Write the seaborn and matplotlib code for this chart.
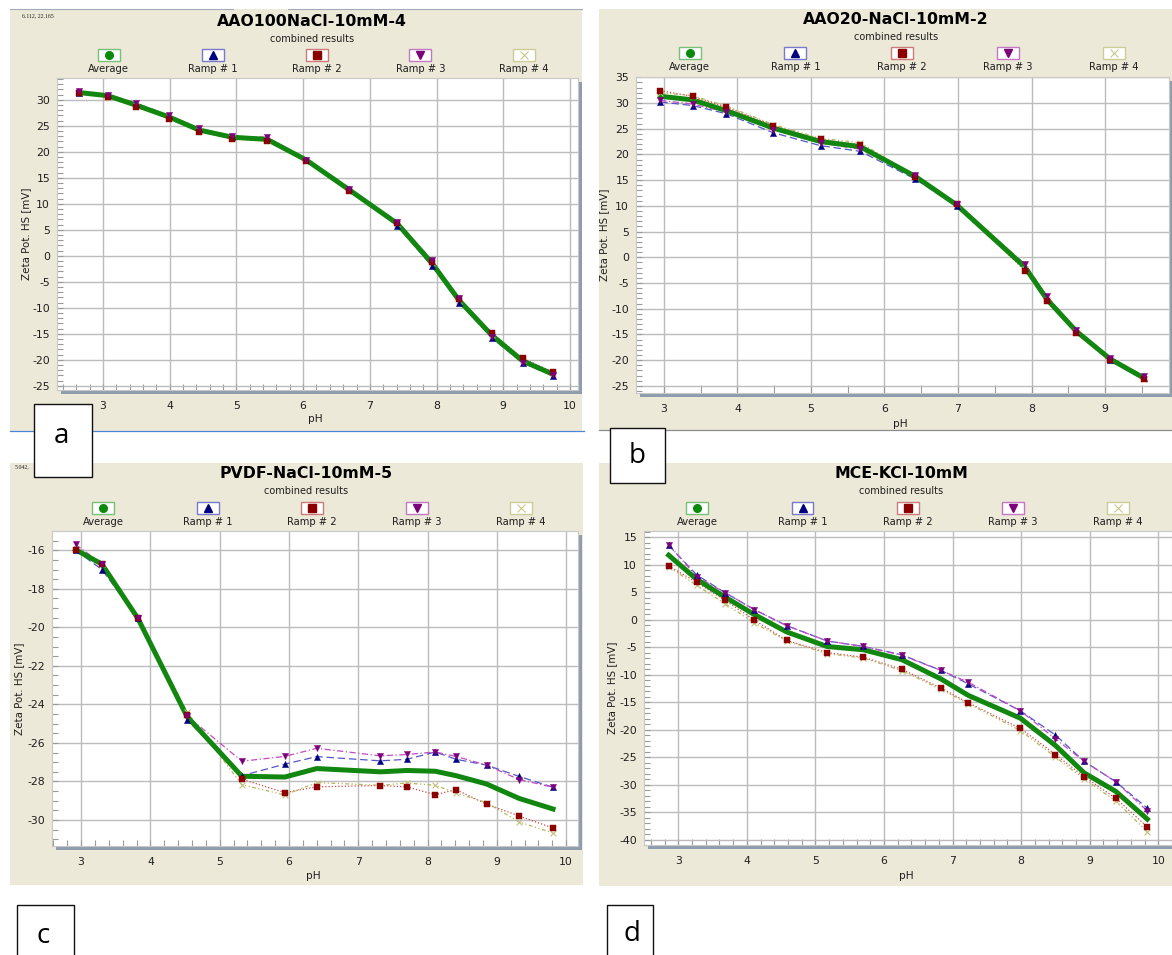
import matplotlib
matplotlib.use("Agg")
import matplotlib.pyplot as plt
from matplotlib.patches import Rectangle
from matplotlib.lines import Line2D
from matplotlib.ticker import MultipleLocator
import seaborn as sns

# ---------------------------------------------------------------- data
SERIES = ["Average", "Ramp # 1", "Ramp # 2", "Ramp # 3", "Ramp # 4"]

# AAO100NaCl-10mM-4
a_ph = [2.64, 3.07, 3.49, 3.99, 4.44, 4.94, 5.46, 6.05, 6.69, 7.41, 7.93, 8.34, 8.83, 9.29, 9.75]
a_avg = [31.4, 30.8, 29.0, 26.7, 24.2, 22.8, 22.4, 18.4, 12.7, 6.2, -1.4, -8.6, -15.3, -20.2, -22.8]
a_r1 = [31.3, 30.9, 29.2, 26.9, 24.4, 22.9, 22.6, 18.5, 12.8, 5.8, -2.0, -9.0, -15.8, -20.6, -23.1]
a_r2 = [31.4, 30.6, 28.7, 26.4, 23.9, 22.5, 22.1, 18.2, 12.5, 6.4, -1.2, -8.3, -14.9, -19.7, -22.4]
a_r3 = [31.7, 31.0, 29.4, 27.0, 24.5, 23.0, 22.8, 18.5, 12.9, 6.6, -0.8, -8.2, -15.6, -20.6, -23.0]
a_r4 = [31.3, 30.7, 28.9, 26.6, 24.1, 22.7, 22.3, 18.4, 12.6, 6.2, -1.4, -8.7, -15.2, -20.1, -22.7]

# AAO20-NaCl-10mM-2
b_ph = [2.95, 3.39, 3.85, 4.49, 5.13, 5.67, 6.42, 6.98, 7.91, 8.21, 8.61, 9.07, 9.53]
b_avg = [31.3, 30.6, 28.5, 25.1, 22.5, 21.5, 15.7, 10.2, -1.9, -8.2, -14.4, -19.8, -23.5]
b_r1 = [30.2, 29.5, 27.9, 24.2, 21.7, 20.6, 15.2, 9.9, -2.1, -8.4, -14.5, -19.9, -23.4]
b_r2 = [32.4, 31.3, 29.2, 25.6, 22.9, 21.9, 15.6, 10.3, -2.6, -8.6, -14.7, -20.0, -23.7]
b_r3 = [30.5, 29.8, 28.2, 24.8, 22.2, 21.0, 15.9, 10.3, -1.3, -7.6, -14.1, -19.5, -23.1]
b_r4 = [32.0, 31.4, 29.4, 25.8, 23.1, 22.3, 15.8, 10.2, -2.2, -8.3, -14.3, -19.8, -23.6]

# PVDF-NaCl-10mM-5
c_ph = [2.92, 3.30, 3.82, 4.53, 5.32, 5.94, 6.40, 7.32, 7.70, 8.11, 8.41, 8.85, 9.32, 9.81]
c_avg = [-15.97, -16.72, -19.54, -24.64, -27.73, -27.77, -27.33, -27.50, -27.43, -27.47, -27.70, -28.13, -28.88, -29.43]
c_r1 = [-16.0, -17.0, -19.54, -24.8, -27.7, -27.1, -26.71, -26.93, -26.85, -26.47, -26.85, -27.15, -27.74, -28.30]
c_r2 = [-16.0, -16.7, -19.54, -24.55, -27.88, -28.58, -28.28, -28.21, -28.28, -28.69, -28.42, -29.18, -29.79, -30.42]
c_r3 = [-15.7, -16.7, -19.54, -24.6, -26.95, -26.7, -26.28, -26.67, -26.6, -26.47, -26.7, -27.15, -27.9, -28.3]
c_r4 = [-16.0, -16.7, -19.5, -24.4, -28.17, -28.7, -28.06, -28.2, -28.08, -28.2, -28.6, -29.1, -30.1, -30.68]

# MCE-KCl-10mM
d_ph = [2.86, 3.27, 3.68, 4.11, 4.58, 5.17, 5.70, 6.26, 6.83, 7.23, 7.99, 8.50, 8.92, 9.38, 9.84]
d_avg = [11.7, 7.3, 4.1, 0.9, -2.25, -4.9, -5.5, -7.3, -10.8, -13.8, -17.95, -22.9, -27.9, -31.25, -36.3]
d_r1 = [13.5, 8.1, 4.9, 1.8, -1.1, -3.9, -4.9, -6.4, -9.25, -11.7, -16.6, -21.0, -25.8, -29.5, -34.3]
d_r2 = [9.75, 6.75, 3.5, -0.1, -3.8, -6.0, -6.85, -9.05, -12.45, -15.15, -19.8, -24.55, -28.6, -32.5, -37.7]
d_r3 = [13.6, 7.8, 4.9, 1.8, -1.1, -3.9, -4.9, -6.5, -9.25, -11.4, -16.6, -21.7, -25.8, -29.5, -34.8]
d_r4 = [9.6, 6.2, 2.9, -0.6, -3.9, -6.2, -7.0, -9.3, -12.7, -15.3, -20.2, -25.0, -29.0, -33.0, -38.6]

# ---------------------------------------------------------------- style
W, H = 1172, 955
BEIGE = "#ECE9D8"
SHADOW = "#8E9DAD"
GRID = "#bcbcbc"
TXT = "#1e1e1e"

AVG_STYLE = dict(color="#11870f", lw=3.6)
RAMP_STYLES = [
    dict(line="#5656c8", ls=(0, (6, 3)), marker="^", mc="#00007f"),
    dict(line="#d04848", ls=(0, (1, 1.6)), marker="s", mc="#8b0000"),
    dict(line="#c24cc2", ls=(0, (5, 2, 1, 2)), marker="v", mc="#7c007c"),
    dict(line="#b4b45e", ls=(0, (3, 2, 1, 2, 1, 2)), marker="x", mc="#c2c27e"),
]
LEGEND_ICONS = [
    dict(box="#78c078", marker="o", mc="#0a8a0a"),
    dict(box="#7878cc", marker="^", mc="#00007f"),
    dict(box="#cc7a7a", marker="s", mc="#8b0000"),
    dict(box="#c478c4", marker="v", mc="#7c007c"),
    dict(box="#cccc96", marker="x", mc="#c8c88a"),
]

plt.rcParams["axes.unicode_minus"] = False
plt.rcParams["font.family"] = ["DejaVu Sans"]

fig = plt.figure(figsize=(W / 100, H / 100), dpi=100)
fig.patch.set_facecolor("white")


def fx(px):
    return px / W


def fy(py):
    return 1 - py / H


def frect(x0, y0, x1, y1, **kw):
    r = Rectangle((fx(x0), fy(y1)), (x1 - x0) / W, (y1 - y0) / H,
                  transform=fig.transFigure, **kw)
    fig.add_artist(r)
    return r


def draw_panel(cfg, ph, avg, ramps):
    bx0, by0, bx1, by1 = cfg["panel"]
    frect(bx0, by0, bx1, by1, facecolor=BEIGE, edgecolor="none", zorder=-3)
    px0, py0, px1, py1 = cfg["plot"]
    frect(px0 + 4, py0 + 4, px1 + 4, py1 + 4, facecolor=SHADOW, edgecolor="none", zorder=-2)

    ax = fig.add_axes([fx(px0), fy(py1), (px1 - px0) / W, (py1 - py0) / H])
    ax.set_facecolor("white")
    for s in ax.spines.values():
        s.set_color("#c8c8c8")
        s.set_linewidth(0.8)

    # ramp lines under the average, markers on top
    for vals, st in zip(ramps, RAMP_STYLES):
        sns.lineplot(x=ph, y=vals, ax=ax, color=st["line"], lw=0.9,
                     linestyle=st["ls"], sort=False, errorbar=None, zorder=2)
    sns.lineplot(x=ph, y=avg, ax=ax, color=AVG_STYLE["color"], lw=AVG_STYLE["lw"],
                 sort=False, errorbar=None, zorder=3)
    for idx in (3, 0, 1, 2):
        st = RAMP_STYLES[idx]
        if st["marker"] == "x":
            sns.scatterplot(x=ph, y=ramps[idx], ax=ax, marker="x", s=18,
                            color=st["mc"], linewidth=0.8, zorder=4, legend=False)
        else:
            sns.scatterplot(x=ph, y=ramps[idx], ax=ax, marker=st["marker"], s=20,
                            color=st["mc"], edgecolor=st["mc"], linewidth=0.3,
                            zorder=4, legend=False)

    ax.set_xlim(*cfg["xlim"])
    ax.set_ylim(*cfg["ylim"])
    ax.xaxis.set_major_locator(MultipleLocator(1))
    ax.xaxis.set_minor_locator(MultipleLocator(cfg["xminor"]))
    ax.yaxis.set_major_locator(MultipleLocator(cfg["ystep"]))
    ax.yaxis.set_minor_locator(MultipleLocator(cfg["yminor"]))
    ax.set_axisbelow(True)
    ax.grid(True, which="major", color=GRID, lw=1.0)
    ax.tick_params(which="both", direction="in", color="#9a9a9a", width=0.8,
                   top=False, right=False, labelsize=7.8, labelcolor=TXT)
    ax.tick_params(which="both", axis="y", length=4, pad=5)
    ax.tick_params(which="both", axis="x", length=cfg["xticklen"], pad=8)
    ax.set_xlabel("")
    ax.set_ylabel("")

    # titles and axis labels
    tx = cfg["title_x"]
    fig.text(fx(tx), fy(cfg["title_y"]), cfg["title"], fontsize=11.3,
             fontweight="bold", ha="center", va="center", color="black")
    fig.text(fx(tx), fy(cfg["title_y"] + 17), "combined results", fontsize=7,
             ha="center", va="center", color=TXT)
    fig.text(fx(cfg["ylabel_x"]), fy((py0 + py1) / 2), "Zeta Pot. HS [mV]",
             rotation=90, fontsize=7.4, ha="center", va="center", color=TXT)
    fig.text(fx((px0 + px1) / 2 - 2), fy(cfg["xlabel_y"]), "pH", fontsize=7.6,
             ha="center", va="center", color=TXT)

    # legend row
    bw, bh = 22, 12
    ly = cfg["legend_y"]
    for cx, name, ic in zip(cfg["legend_x"], SERIES, LEGEND_ICONS):
        frect(cx - bw / 2, ly - bh / 2, cx + bw / 2, ly + bh / 2,
              facecolor="white", edgecolor=ic["box"], lw=1.0, zorder=2)
        if ic["marker"] == "x":
            mk = Line2D([fx(cx)], [fy(ly)], transform=fig.transFigure, marker="x",
                        ms=6, mew=0.8, color=ic["mc"], ls="none", zorder=3)
        else:
            mk = Line2D([fx(cx)], [fy(ly)], transform=fig.transFigure,
                        marker=ic["marker"], ms=5.5, color=ic["mc"], mec=ic["mc"],
                        ls="none", zorder=3)
        fig.add_artist(mk)
        fig.text(fx(cx), fy(ly + 14), name, fontsize=7.2, ha="center",
                 va="center", color=TXT)
    return ax


PANELS = [
    dict(title="AAO100NaCl-10mM-4", panel=(10, 9, 582, 431), plot=(57, 78, 578, 390),
         xlim=(2.31, 10.12), ylim=(-25.8, 34.2), ystep=5, yminor=1, xminor=0.2, xticklen=4,
         title_x=312, title_y=21.5, legend_x=[108.7, 213.3, 316.5, 420.3, 524],
         legend_y=55.5, ylabel_x=26, xlabel_y=419),
    dict(title="AAO20-NaCl-10mM-2", panel=(599, 9, 1172, 431), plot=(636, 77, 1169, 393),
         xlim=(2.62, 9.87), ylim=(-26.4, 35.05), ystep=5, yminor=1, xminor=0.5, xticklen=6,
         title_x=896, title_y=19.5, legend_x=[689.5, 795.4, 901.6, 1007.9, 1114.2],
         legend_y=53.5, ylabel_x=604, xlabel_y=424),
    dict(title="PVDF-NaCl-10mM-5", panel=(10, 463, 583, 885), plot=(52, 531, 578, 846),
         xlim=(2.58, 10.17), ylim=(-31.35, -15.0), ystep=2, yminor=0.5, xminor=0.2, xticklen=4,
         title_x=306, title_y=473.5, legend_x=[103, 208, 312, 417, 521],
         legend_y=508, ylabel_x=19, xlabel_y=876),
    dict(title="MCE-KCl-10mM", panel=(599, 463, 1172, 886), plot=(644, 531, 1172, 845),
         xlim=(2.5, 10.2), ylim=(-41.0, 16.1), ystep=5, yminor=1, xminor=0.2, xticklen=4,
         title_x=901, title_y=473.5, legend_x=[697, 802.5, 907.6, 1012.6, 1117.7],
         legend_y=508, ylabel_x=612, xlabel_y=876),
]

draw_panel(PANELS[0], a_ph, a_avg, [a_r1, a_r2, a_r3, a_r4])
draw_panel(PANELS[1], b_ph, b_avg, [b_r1, b_r2, b_r3, b_r4])
draw_panel(PANELS[2], c_ph, c_avg, [c_r1, c_r2, c_r3, c_r4])
draw_panel(PANELS[3], d_ph, d_avg, [d_r1, d_r2, d_r3, d_r4])

# window edges around the top panels
fig.add_artist(Line2D([fx(10), fx(233)], [fy(9), fy(9)], transform=fig.transFigure,
                      color="#a4abb8", lw=0.8))
fig.add_artist(Line2D([fx(288), fx(582)], [fy(9), fy(9)], transform=fig.transFigure,
                      color="#a4abb8", lw=0.8))
fig.add_artist(Line2D([fx(10), fx(584)], [fy(431), fy(431)], transform=fig.transFigure,
                      color="#4a86d8", lw=0.9))
fig.add_artist(Line2D([fx(599), fx(1172)], [fy(430), fy(430)], transform=fig.transFigure,
                      color="#8c8c8c", lw=0.9))

# cursor read-outs
fig.text(fx(22), fy(15.5), "6.112, 22.165", fontsize=4.2, family="Liberation Serif",
         ha="left", va="center", color=TXT)
fig.text(fx(15), fy(467), "5.042,", fontsize=4.2, family="Liberation Serif",
         ha="left", va="center", color=TXT)

# panel letters
for letter, (x0, y0, x1, y1), (lx, ly) in [
    ("a", (34, 404, 92, 477), (61, 436)),
    ("b", (610, 428, 665, 483), (637, 456)),
    ("c", (17, 905, 74, 962), (43, 936)),
    ("d", (607, 905, 653, 962), (632, 934)),
]:
    frect(x0, y0, x1, y1, facecolor="white", edgecolor="#111111", lw=1.0, zorder=5)
    fig.text(fx(lx), fy(ly), letter, fontsize=20, family="Open Sans", ha="center",
             va="center", color="black", zorder=6)

fig.savefig("out.png", dpi=100, facecolor="white")
